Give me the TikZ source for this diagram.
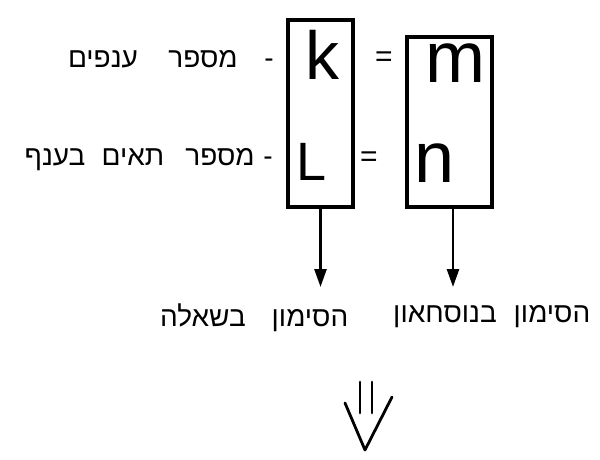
\documentclass[tikz,border=0pt]{standalone}
\usepackage{fontspec}
\setmainfont{Liberation Sans}
\newfontfamily\hebfont[Script=Hebrew]{Liberation Sans}
\TeXXeTstate=1
\usetikzlibrary{arrows.meta}
\begin{document}
\begin{tikzpicture}[x=1pt,y=-1pt,
  box/.style={draw, line width=3.2pt, inner sep=0pt},
  heb/.style={font=\hebfont\fontsize{28}{32}\selectfont, inner sep=0pt, anchor=base},
  letter/.style={font=\fontsize{68}{72}\selectfont, inner sep=0pt, anchor=base},
  eqsign/.style={font=\fontsize{30}{34}\selectfont, inner sep=0pt},
  arr/.style={line width=2.6pt, -{Triangle[width=12pt,length=18pt]}},
  hand/.style={line width=2.8pt, line cap=round, line join=round}]
\useasboundingbox (0,0) rectangle (600,460);
% boxes
\node[box, minimum width=65pt, minimum height=187pt] (lbox) at (320.5,113.5) {};
\node[box, minimum width=85pt, minimum height=170pt] (rbox) at (449.5,122) {};
% letters
\node[letter] (k) at (322,80) {k};
\node[letter, font=\fontsize{54}{58}\selectfont] (L) at (312,180) {L};
\node[letter, font=\fontsize{72}{76}\selectfont] (m) at (455,82) {m};
\node[letter, font=\fontsize{72}{76}\selectfont] (n) at (435,182) {n};
% equal signs
\node[eqsign] (eq1) at (384,59) {=};
\node[eqsign] (eq2) at (369,159) {=};
% row 1 text
\node[heb] (d1) at (269,68) {-};
\node[heb] (w1a) at (203,68) {\beginR מספר\endR};
\node[heb] (w1b) at (103,68) {\beginR ענפים\endR};
% row 2 text
\node[heb] (d2) at (268,165) {-};
\node[heb] (w2a) at (220,165) {\beginR מספר\endR};
\node[heb] (w2b) at (133,165) {\beginR תאים\endR};
\node[heb] (w2c) at (55,165) {\beginR בענף\endR};
% arrows
\coordinate (la) at (320.5,287);
\coordinate (ra) at (453,287);
\draw[arr] (lbox.south) -- (la);
\draw[arr] (rbox.south -| ra) -- (ra);
% bottom labels
\node[heb] (b1a) at (310,326) {\beginR הסימון\endR};
\node[heb] (b1b) at (203,326) {\beginR בשאלה\endR};
\node[heb] (b2a) at (552,322) {\beginR הסימון\endR};
\node[heb] (b2b) at (445,322) {\beginR בנוסחאון\endR};
% double arrow
\coordinate (dtip) at (365,450);
\draw[hand] (360,382) -- (360,413);
\draw[hand] (372,382) -- (372,413);
\draw[hand] (345,403) -- (dtip) -- (392,397);
\end{tikzpicture}
\end{document}
